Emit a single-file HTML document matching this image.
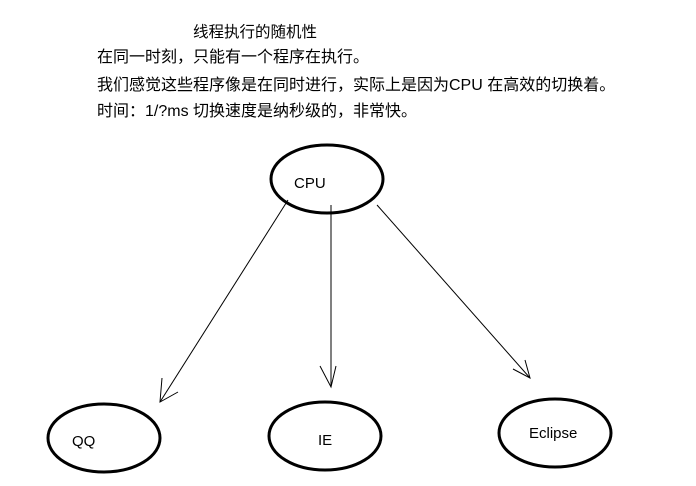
<!DOCTYPE html>
<html><head><meta charset="utf-8"><style>
body{margin:0;background:#fff;width:696px;height:486px;overflow:hidden;position:relative;font-family:"Liberation Sans","Noto Sans CJK SC",sans-serif;color:#000}
.t{position:absolute;font-size:16px;white-space:nowrap;line-height:18px}
</style></head><body>
<div class="t" style="left:193px;top:24px;font-size:15.5px">线程执行的随机性</div>
<div class="t" style="left:97px;top:49px">在同一时刻，只能有一个程序在执行。</div>
<div class="t" style="left:97px;top:77px">我们感觉这些程序像是在同时进行，实际上是因为CPU 在高效的切换着。</div>
<div class="t" style="left:97px;top:103px">时间：1/?ms 切换速度是纳秒级的，非常快。</div>
<svg width="696" height="486" style="position:absolute;left:0;top:0" font-family="Liberation Sans, sans-serif" font-size="15">
<g fill="none" stroke="#000" stroke-width="3">
<ellipse cx="327" cy="179" rx="56" ry="34"/>
<ellipse cx="104" cy="438" rx="56" ry="34"/>
<ellipse cx="325" cy="436" rx="56" ry="34"/>
<ellipse cx="555" cy="433" rx="56" ry="34"/>
</g>
<g fill="none" stroke="#000" stroke-width="1">
<line x1="288" y1="200" x2="160" y2="402"/>
<polyline points="162,378 160,402 178,392"/>
<line x1="331" y1="205" x2="331" y2="387"/>
<polyline points="320,366 331,387 336,366"/>
<line x1="377" y1="205" x2="530" y2="378"/>
<polyline points="525,360 530,378 513,369"/>
</g>
<text x="294" y="188">CPU</text>
<text x="72" y="446">QQ</text>
<text x="318" y="445">IE</text>
<text x="529" y="438">Eclipse</text>
</svg>
</body></html>
